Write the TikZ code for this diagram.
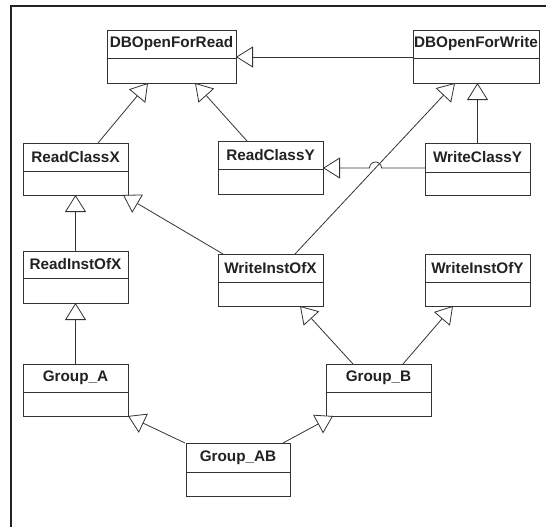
\documentclass[tikz,border=0pt]{standalone}
\usepackage{fontspec}
\setmainfont{Liberation Sans}
\usetikzlibrary{arrows.meta,calc}

\definecolor{linegray}{HTML}{333333}
\definecolor{textgray}{HTML}{222222}
\definecolor{framegray}{HTML}{222222}

\tikzset{
  umlbox/.style={draw=linegray, line width=0.9pt, fill=white, inner sep=0pt, outer sep=0pt, anchor=north west},
  umltitle/.style={font=\bfseries\fontsize{15.3}{16}\selectfont, text=textgray, inner sep=0pt},
  umldivider/.style={draw=linegray, line width=0.9pt},
  inherit/.style={draw=linegray, line width=0.8pt,
    -{Triangle[open, length=17pt, width=21pt, fill=white]}},
  outerframe/.style={draw=framegray, line width=2pt}
}

% class box: name, left, top, right, divider, bottom, title
\newcommand\umlclass[7]{%
  \node[umlbox, minimum width={(#4-#2)*1pt}, minimum height={(#6-#3)*1pt}] (#1) at (#2,#3) {};
  \draw[umldivider] (#2,#5) -- (#4,#5);
  \node[umltitle] (#1-title) at ({(#2+#4)/2},{(#3+#5)/2}) {#7};
}

\begin{document}
\begin{tikzpicture}[x=1pt, y=-1pt]
  \useasboundingbox (0,0) rectangle (546,527);
  \draw[outerframe] (11,527) -- (11,6) -- (546,6);

  \umlclass{dbr}{107}{30}{236}{58}{83}{DBOpenForRead}
  \umlclass{dbw}{413}{30}{539}{58}{83}{DBOpenForWrite}
  \umlclass{rcx}{23}{143}{128}{171}{195}{ReadClassX}
  \umlclass{rcy}{218}{141}{323}{169}{194}{ReadClassY}
  \umlclass{wcy}{425}{143}{530}{172}{195}{WriteClassY}
  \umlclass{rix}{23}{251}{128}{278}{303}{ReadInstOfX}
  \umlclass{wix}{218}{254}{323}{282}{306}{WriteInstOfX}
  \umlclass{wiy}{425}{254}{530}{282}{306}{WriteInstOfY}
  \umlclass{ga}{23}{364}{128}{392}{416}{Group\_A}
  \umlclass{gb}{326}{364}{431}{392}{416}{Group\_B}
  \umlclass{gab}{186}{443}{290}{472}{496}{Group\_AB}

  % generalisations
  \draw[inherit] ($(dbw.north west)+(0,27)$) -- ($(dbr.north east)+(0,27)$);
  \draw[inherit] ($(rcx.north west)+(75,0)$) -- ($(dbr.south west)+(41,0)$);
  \draw[inherit] ($(rcy.north west)+(29,0)$) -- ($(dbr.south west)+(88,0)$);
  \draw[inherit] (wcy.north) -- (wcy.north |- dbw.south);
  \draw[inherit] ($(wix.north west)+(77,0)$) -- ($(dbw.south west)+(42,0)$);
  \coordinate (hop) at (375.5,168);
  \draw[inherit] ($(wcy.north west)+(0,25)$) -- ($(hop)+(6,0)$)
    arc[start angle=0, end angle=180, radius=6pt] -- (rcy.east |- hop);
  \draw[inherit] (rix.north) -- (rcx.south);
  \draw[inherit] ($(wix.north west)+(5,0)$) -- ($(rcx.south east)+(-5,0)$);
  \draw[inherit] (ga.north) -- (rix.south);
  \draw[inherit] ($(gb.north west)+(27,0)$) -- ($(wix.south west)+(82,0)$);
  \draw[inherit] ($(gb.north west)+(77,0)$) -- ($(wiy.south west)+(28,0)$);
  \draw[inherit] ($(gab.north west)+(-1,0)$) -- (ga.south east);
  \draw[inherit] ($(gab.north east)+(-7,0)$) -- ($(gb.south west)+(7,0)$);
\end{tikzpicture}
\end{document}
